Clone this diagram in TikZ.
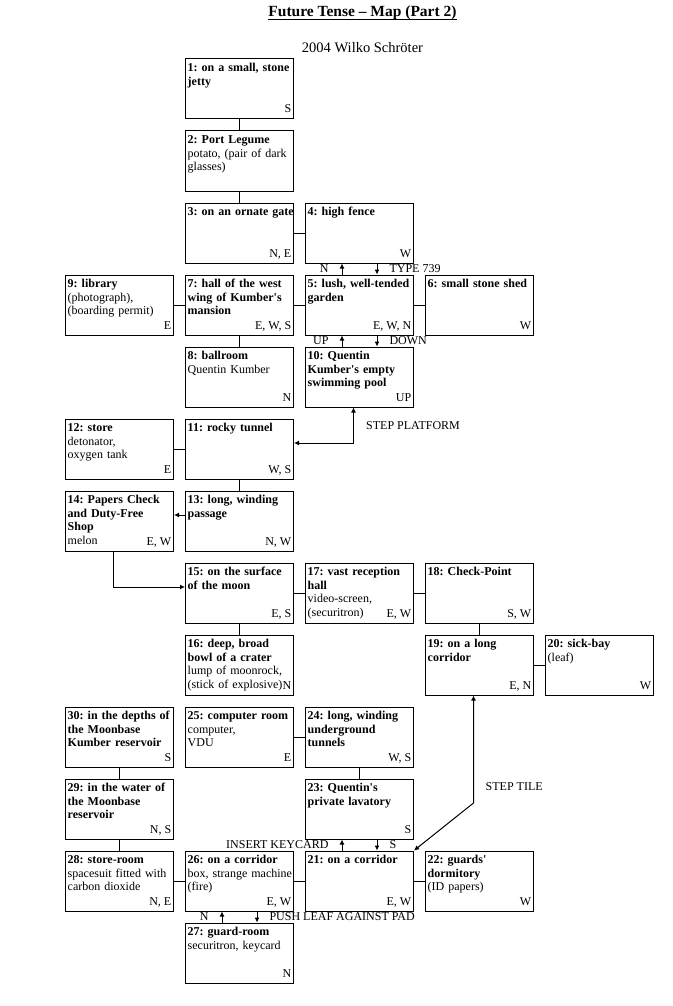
\documentclass[tikz,border=0pt]{standalone}
\usepackage{fontspec}
\setmainfont{Liberation Serif}[Ligatures=TeXOff]
\usepackage{tikz}
\usetikzlibrary{arrows.meta}
\tikzstyle{room} = [rectangle, draw, line width=1pt, minimum width=108pt, minimum height=60pt, inner sep=0pt]
\tikzstyle{roomtext} = [anchor=north west, text width=106pt, align=left, inner xsep=2.5pt, inner ysep=0pt, text height=13pt, font=\fontsize{12}{13.6}\selectfont]
\tikzstyle{exits} = [anchor=base east, inner sep=0pt, xshift=-2.5pt, yshift=6.5pt, font=\fontsize{12}{13.6}\selectfont]
\tikzstyle{link} = [line width=1pt]
\tikzstyle{arrow} = [line width=1pt, -{Latex[length=5pt,width=5pt]}]
\tikzstyle{twoway} = [line width=1pt, {Latex[length=5pt,width=5pt]}-{Latex[length=5pt,width=5pt]}]
\tikzstyle{note} = [inner sep=0pt, font=\fontsize{12}{13.6}\selectfont]

\begin{document}
\frenchspacing
\begin{tikzpicture}[x=1pt, y=-1pt]
\useasboundingbox (0,0) rectangle (672,1006);

% Heading
\node[inner sep=0pt, anchor=base, font=\fontsize{15.5}{18}\selectfont\bfseries] (title) at (362.5,16.5) {Future Tense – Map (Part 2)};
\draw[line width=0.9pt] ([yshift=-2.5pt]title.base west) -- ([yshift=-2.5pt]title.base east);
\node[inner sep=0pt, anchor=base, font=\fontsize{14.5}{17}\selectfont] (author) at (362.5,53) {2004 Wilko Schröter};

% Rooms
\node[room, label={[roomtext]north west:{\textbf{1: on a small, stone\\jetty}}}, label={[exits]south east:S}] (jetty) at (239.5,89) {};
\node[room, label={[roomtext]north west:{\textbf{2: Port Legume}\\potato, (pair of dark\\glasses)}}] (legume) at (239.5,161) {};
\node[room, label={[roomtext]north west:{\textbf{3: on an ornate gate}}}, label={[exits]south east:{N, E}}] (gate) at (239.5,233) {};
\node[room, label={[roomtext]north west:{\textbf{4: high fence}}}, label={[exits]south east:W}] (fence) at (359.5,233) {};

\node[room, label={[roomtext]north west:{\textbf{9: library}\\(photograph),\\(boarding permit)}}, label={[exits]south east:E}] (library) at (119.5,305) {};
\node[room, label={[roomtext]north west:{\textbf{7: hall of the west\\wing of Kumber's\\mansion}}}, label={[exits]south east:{E, W, S}}] (hall) at (239.5,305) {};
\node[room, label={[roomtext]north west:{\textbf{5: lush, well-tended\\garden}}}, label={[exits]south east:{E, W, N}}] (garden) at (359.5,305) {};
\node[room, label={[roomtext]north west:{\textbf{6: small stone shed}}}, label={[exits]south east:W}] (shed) at (479.5,305) {};

\node[room, label={[roomtext]north west:{\textbf{8: ballroom}\\Quentin Kumber}}, label={[exits]south east:N}] (ballroom) at (239.5,377) {};
\node[room, label={[roomtext]north west:{\textbf{10: Quentin\\Kumber's empty\\swimming pool}}}, label={[exits]south east:UP}] (pool) at (359.5,377) {};

\node[room, label={[roomtext]north west:{\textbf{12: store}\\detonator,\\oxygen tank}}, label={[exits]south east:E}] (store) at (119.5,449) {};
\node[room, label={[roomtext]north west:{\textbf{11: rocky tunnel}}}, label={[exits]south east:{W, S}}] (tunnel) at (239.5,449) {};

\node[room, label={[roomtext]north west:{\textbf{14: Papers Check\\and Duty-Free\\Shop}\\melon}}, label={[exits]south east:{E, W}}] (papers) at (119.5,521) {};
\node[room, label={[roomtext]north west:{\textbf{13: long, winding\\passage}}}, label={[exits]south east:{N, W}}] (passage) at (239.5,521) {};

\node[room, label={[roomtext]north west:{\textbf{15: on the surface\\of the moon}}}, label={[exits]south east:{E, S}}] (surface) at (239.5,593) {};
\node[room, label={[roomtext]north west:{\textbf{17: vast reception\\hall}\\video-screen,\\(securitron)}}, label={[exits]south east:{E, W}}] (reception) at (359.5,593) {};
\node[room, label={[roomtext]north west:{\textbf{18: Check-Point}}}, label={[exits]south east:{S, W}}] (checkpoint) at (479.5,593) {};

\node[room, label={[roomtext]north west:{\textbf{16: deep, broad\\bowl of a crater}\\lump of moonrock,\\(stick of explosive)}}, label={[exits]south east:N}] (crater) at (239.5,665) {};
\node[room, label={[roomtext]north west:{\textbf{19: on a long\\corridor}}}, label={[exits]south east:{E, N}}] (longcorr) at (479.5,665) {};
\node[room, label={[roomtext]north west:{\textbf{20: sick-bay}\\(leaf)}}, label={[exits]south east:W}] (sickbay) at (599.5,665) {};

\node[room, label={[roomtext]north west:{\textbf{30: in the depths of\\the Moonbase\\Kumber reservoir}}}, label={[exits]south east:S}] (depths) at (119.5,737) {};
\node[room, label={[roomtext]north west:{\textbf{25: computer room}\\computer,\\VDU}}, label={[exits]south east:E}] (computer) at (239.5,737) {};
\node[room, label={[roomtext]north west:{\textbf{24: long, winding\\underground\\tunnels}}}, label={[exits]south east:{W, S}}] (undertunnels) at (359.5,737) {};

\node[room, label={[roomtext]north west:{\textbf{29: in the water of\\the Moonbase\\reservoir}}}, label={[exits]south east:{N, S}}] (water) at (119.5,809) {};
\node[room, label={[roomtext]north west:{\textbf{23: Quentin's\\private lavatory}}}, label={[exits]south east:S}] (lavatory) at (359.5,809) {};

\node[room, label={[roomtext]north west:{\textbf{28: store-room}\\spacesuit fitted with\\carbon dioxide}}, label={[exits]south east:{N, E}}] (storeroom) at (119.5,881) {};
\node[room, label={[roomtext]north west:{\textbf{26: on a corridor}\\box, strange machine\\(fire)}}, label={[exits]south east:{E, W}}] (westcorr) at (239.5,881) {};
\node[room, label={[roomtext]north west:{\textbf{21: on a corridor}}}, label={[exits]south east:{E, W}}] (eastcorr) at (359.5,881) {};
\node[room, label={[roomtext]north west:{\textbf{22: guards'\\dormitory}\\(ID papers)}}, label={[exits]south east:W}] (dormitory) at (479.5,881) {};

\node[room, label={[roomtext]north west:{\textbf{27: guard-room}\\securitron, keycard}}, label={[exits]south east:N}] (guardroom) at (239.5,953) {};

% Plain passages
\draw[link] (jetty) -- (legume);
\draw[link] (legume) -- (gate);
\draw[link] (gate) -- (fence);
\draw[link] (library) -- (hall);
\draw[link] (hall) -- (garden);
\draw[link] (garden) -- (shed);
\draw[link] (hall) -- (ballroom);
\draw[link] (store) -- (tunnel);
\draw[link] (tunnel) -- (passage);
\draw[link] (surface) -- (reception);
\draw[link] (reception) -- (checkpoint);
\draw[link] (surface) -- (crater);
\draw[link] (checkpoint) -- (longcorr);
\draw[link] (longcorr) -- (sickbay);
\draw[link] (depths) -- (water);
\draw[link] (water) -- (storeroom);
\draw[link] (computer) -- (undertunnels);
\draw[link] (undertunnels) -- (lavatory);
\draw[link] (storeroom) -- (westcorr);
\draw[link] (westcorr) -- (eastcorr);
\draw[link] (eastcorr) -- (dormitory);

% One-way passages
\draw[arrow] ([xshift=-17.5pt]garden.north) -- node[note, pos=0, anchor=base east, xshift=-13pt, yshift=2pt] {N} ([xshift=-17.5pt]fence.south);
\draw[arrow] ([xshift=17.5pt]fence.south) -- node[note, pos=1, anchor=base west, xshift=12pt, yshift=2pt] {TYPE 739} ([xshift=17.5pt]garden.north);
\draw[arrow] ([xshift=-17.5pt]pool.north) -- node[note, pos=0, anchor=base east, xshift=-13pt, yshift=2pt] {UP} ([xshift=-17.5pt]garden.south);
\draw[arrow] ([xshift=17.5pt]garden.south) -- node[note, pos=1, anchor=base west, xshift=12pt, yshift=2pt] {DOWN} ([xshift=17.5pt]pool.north);
\draw[twoway] ([xshift=-6pt]pool.south) |- ([yshift=6pt]tunnel.east);
\node[note, anchor=base west] (platform) at (366,429.5) {STEP PLATFORM};
\draw[arrow] ([yshift=6pt]passage.west) -- ([yshift=6pt]papers.east);
\draw[arrow] ([xshift=-6pt]papers.south) |- ([yshift=6pt]surface.west);
\coordinate (tilebend) at (473.5,803);
\draw[twoway] ([xshift=-6pt]longcorr.south) -- (tilebend) -- (eastcorr.north east);
\node[note, anchor=base west] (tile) at (485.5,790) {STEP TILE};
\draw[arrow] ([xshift=-17.5pt]eastcorr.north) -- node[note, pos=0, anchor=base east, xshift=-13pt, yshift=2pt] {INSERT KEYCARD} ([xshift=-17.5pt]lavatory.south);
\draw[arrow] ([xshift=17.5pt]lavatory.south) -- node[note, pos=1, anchor=base west, xshift=12pt, yshift=2pt] {S} ([xshift=17.5pt]eastcorr.north);
\draw[arrow] ([xshift=-17.5pt]guardroom.north) -- node[note, pos=0, anchor=base east, xshift=-13pt, yshift=2pt] {N} ([xshift=-17.5pt]westcorr.south);
\draw[arrow] ([xshift=17.5pt]westcorr.south) -- node[note, pos=1, anchor=base west, xshift=12pt, yshift=2pt] {PUSH LEAF AGAINST PAD} ([xshift=17.5pt]guardroom.north);
\end{tikzpicture}
\end{document}
